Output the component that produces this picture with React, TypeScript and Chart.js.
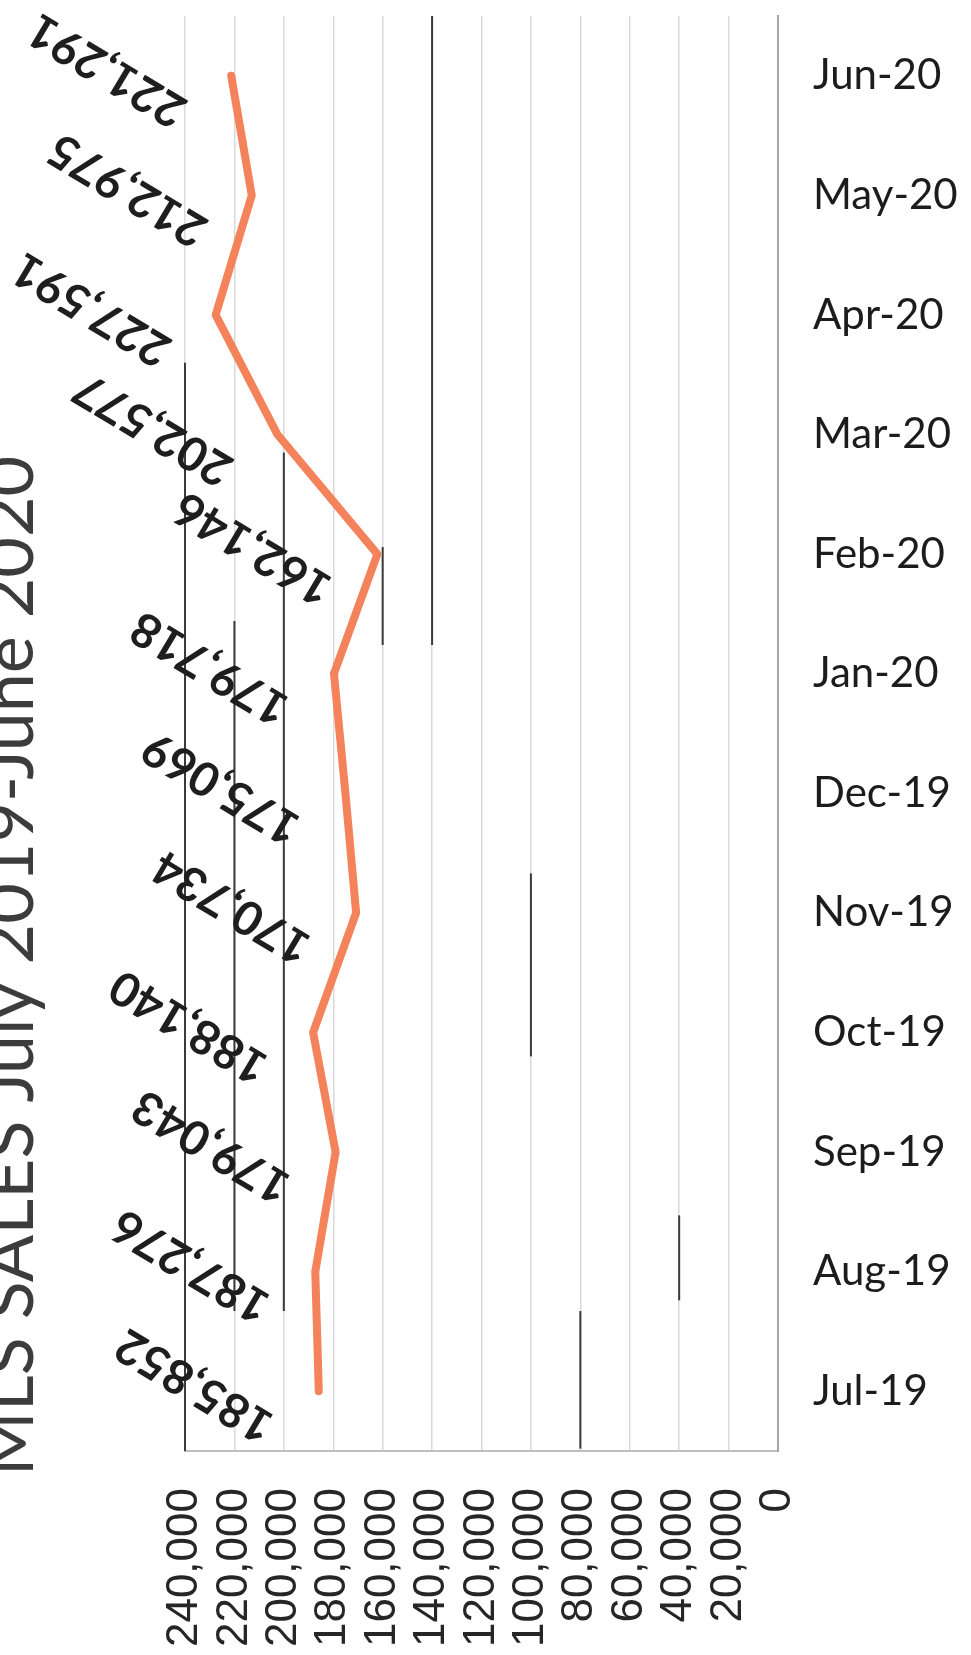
import React, { useEffect, useRef } from "react";
import { Chart, registerables } from "chart.js";

Chart.register(...registerables);

// ---- data ----
const months = ["Jul-19", "Aug-19", "Sep-19", "Oct-19", "Nov-19", "Dec-19", "Jan-20", "Feb-20", "Mar-20", "Apr-20", "May-20", "Jun-20"];
const sales = [185852, 187276, 179043, 188140, 170734, 175069, 179718, 162146, 202577, 227591, 212975, 221291];
const axisMin = 0;
const axisMax = 240000;
const axisStep = 20000;
const titleText = "MLS SALES July 2019-June 2020";

// scan artefacts: darker stretches of some grid lines [value, fromCategoryIndex, toCategoryIndex]
const darkGridValues = [240000, 220000, 200000, 160000, 140000, 100000, 80000, 40000];
const darkGridFrom = [-0.5, 0.67, 0.67, 6.24, 6.24, 2.8, -0.48, 0.76];
const darkGridTo = [8.6, 6.44, 7.85, 7.06, 11.5, 4.33, 0.67, 1.47];

const fmt = (v: number) => Number(v).toLocaleString("en-US");

const titlePlugin = {
  id: "sideTitle",
  afterDraw(chart: any) {
    const { ctx } = chart;
    ctx.save();
    ctx.translate(33, 966);
    ctx.rotate(-Math.PI / 2);
    ctx.textAlign = "center";
    ctx.textBaseline = "alphabetic";
    ctx.font = "70px Lato";
    ctx.fillStyle = "#3c3c3c";
    ctx.fillText(titleText, 0, 0);
    ctx.restore();
  },
};

const darkGridPlugin = {
  id: "darkGrid",
  beforeDatasetsDraw(chart: any) {
    const { ctx } = chart;
    const xs = chart.scales.x;
    const ys = chart.scales.y;
    const { top, bottom } = chart.chartArea;
    ctx.save();
    ctx.strokeStyle = "#3a3a3a";
    ctx.lineWidth = 2;
    darkGridValues.forEach((v, i) => {
      const x = xs.getPixelForValue(v);
      const y1 = ys.getPixelForValue(darkGridFrom[i]);
      const y2 = ys.getPixelForValue(darkGridTo[i]);
      ctx.beginPath();
      ctx.moveTo(x, Math.min(Math.max(y1, top), bottom));
      ctx.lineTo(x, Math.min(Math.max(y2, top), bottom));
      ctx.stroke();
    });
    ctx.restore();
  },
};

const dataLabelPlugin = {
  id: "rotatedLabels",
  afterDatasetsDraw(chart: any) {
    const { ctx } = chart;
    const meta = chart.getDatasetMeta(0);
    const angle = Math.PI + (31 * Math.PI) / 180;
    ctx.save();
    ctx.font = "bold 47px Lato";
    ctx.fillStyle = "#1e1e1e";
    ctx.textAlign = "center";
    ctx.textBaseline = "middle";
    meta.data.forEach((pt: any, i: number) => {
      const x = pt.x - 124;
      const y = pt.y - 6;
      ctx.save();
      ctx.translate(x, y);
      ctx.rotate(angle);
      ctx.fillText(fmt(sales[i]), 0, 0);
      ctx.restore();
    });
    ctx.restore();
  },
};

export default function App() {
  const ref = useRef<HTMLCanvasElement | null>(null);

  useEffect(() => {
    if (!ref.current) return;
    const chart = new Chart(ref.current, {
      type: "line",
      data: {
        labels: months,
        datasets: [
          {
            data: sales,
            borderColor: "#F4825A",
            backgroundColor: "#F4825A",
            borderWidth: 8,
            pointRadius: 0,
            tension: 0,
            fill: false,
            borderCapStyle: "round",
            borderJoinStyle: "round",
          },
        ],
      },
      options: {
        indexAxis: "y",
        responsive: false,
        animation: false,
        layout: { padding: { top: 16, left: 185, right: 0, bottom: 0 } },
        plugins: { legend: { display: false }, tooltip: { enabled: false }, title: { display: false } },
        scales: {
          x: {
            type: "linear",
            reverse: true,
            min: axisMin,
            max: axisMax,
            position: "bottom",
            ticks: {
              stepSize: axisStep,
              autoSkip: false,
              minRotation: 90,
              maxRotation: 90,
              padding: 37,
              color: "#262626",
              font: { family: "'Liberation Sans', Arial, sans-serif", size: 44 },
              callback: (v: any) => fmt(v),
            },
            grid: { color: "#d9d9d9", lineWidth: 1.5, drawTicks: false },
            border: { color: "#bfbfbf", width: 2 },
            afterFit: (s: any) => {
              s.height = 204;
              s.paddingLeft = 0;
              s.paddingRight = 0;
            },
          },
          y: {
            type: "category",
            position: "right",
            reverse: true,
            offset: true,
            ticks: {
              padding: 35,
              autoSkip: false,
              color: "#1c1c1c",
              font: { family: "Lato", size: 42 },
            },
            grid: { display: false, drawTicks: false },
            border: { color: "#a6a6a6", width: 2 },
            afterFit: (s: any) => {
              s.width = 193;
              s.paddingTop = 0;
              s.paddingBottom = 0;
            },
          },
        },
      },
      plugins: [darkGridPlugin, dataLabelPlugin, titlePlugin],
    } as any);
    (document as any).fonts?.ready?.then(() => chart.update());
    return () => chart.destroy();
  }, []);

  return (
    <div style={{ position: "absolute", left: 0, top: 0, width: 971, height: 1655, background: "#fff" }}>
      <canvas ref={ref} width={971} height={1655} style={{ display: "block", width: 971, height: 1655 }} />
    </div>
  );
}
